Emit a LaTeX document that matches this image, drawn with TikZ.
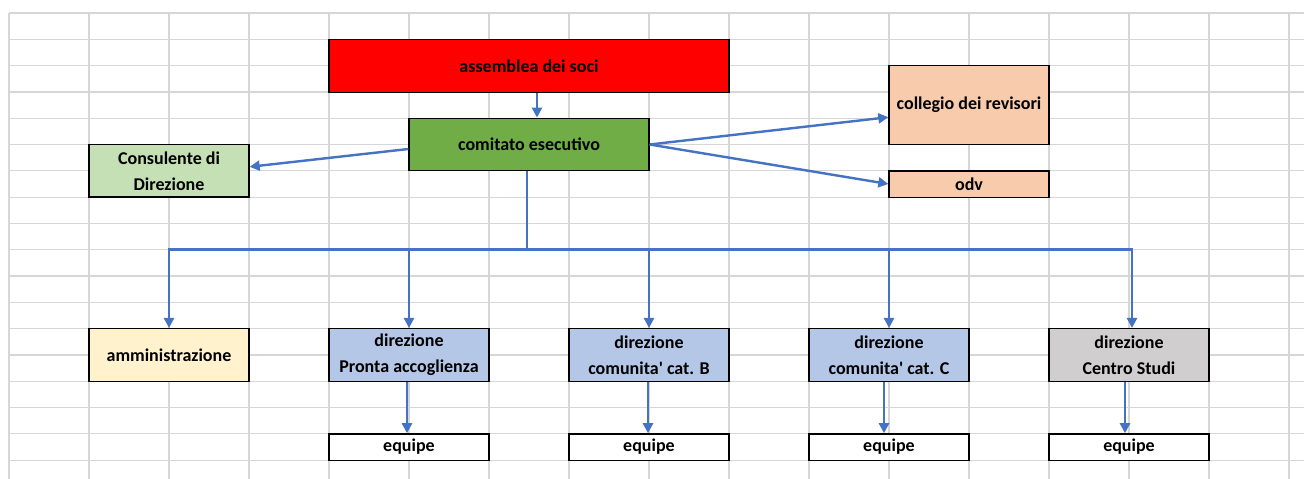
\documentclass[tikz,border=0pt]{standalone}
\usepackage{fontspec}
\setmainfont{Carlito}
\usetikzlibrary{arrows.meta}
\definecolor{gridc}{RGB}{214,214,214}
\definecolor{arrc}{RGB}{68,114,196}
\definecolor{redc}{RGB}{255,0,0}
\definecolor{greenc}{RGB}{112,173,71}
\definecolor{lgreen}{RGB}{197,224,180}
\definecolor{peach}{RGB}{248,203,173}
\definecolor{cream}{RGB}{255,242,204}
\definecolor{lblue}{RGB}{180,199,231}
\definecolor{lgrey}{RGB}{208,206,206}

\begin{document}
\begin{tikzpicture}[x=1pt,y=-1pt,
    box/.style={draw=black,line width=1.3pt,inner sep=0pt,minimum width=160pt,minimum height=52.6pt,
                align=center,font=\fontsize{18}{26}\selectfont\bfseries},
    arr/.style={arrc,line width=2.4pt,-{Triangle[length=10pt,width=10pt]}}]
    \useasboundingbox (0,0) rectangle (1304,479);
    \fill[white] (0,0) rectangle (1304,479);
    % sheet cells
    \foreach \i in {0,...,16} \draw[gridc,line width=1.2pt] (9+80*\i,13) -- (9+80*\i,479);
    \foreach \j in {0,...,17} \draw[gridc,line width=1.2pt] (9,13+26.3*\j) -- (1304,13+26.3*\j);
    % top
    \node[box,fill=redc,minimum width=400pt] (assemblea) at (529,66) {assemblea dei soci};
    \node[box,fill=greenc,minimum width=240pt] (comitato) at (529,144.5) {comitato esecutivo};
    \node[box,fill=lgreen] (consulente) at (169,170.8) {Consulente di\\Direzione};
    \node[box,fill=peach,minimum height=78.9pt] (collegio) at (969,105.2) {collegio dei revisori};
    \node[box,fill=peach,minimum height=26.3pt] (odv) at (969,184) {odv};
    % direzioni
    \node[box,fill=cream] (amm) at (169,354.9) {amministrazione};
    \node[box,fill=lblue] (pronta) at (409,354.9) {direzione\\Pronta accoglienza};
    \node[box,fill=lblue] (catB) at (649,354.9) {direzione\\comunita\textquotesingle{} cat. B};
    \node[box,fill=lblue] (catC) at (889,354.9) {direzione\\comunita\textquotesingle{} cat. C};
    \node[box,fill=lgrey] (studi) at (1129,354.9) {direzione\\Centro Studi};
    % equipe
    \foreach \n/\x in {eqA/409,eqB/649,eqC/889,eqD/1129}
        \node[box,fill=white,minimum height=26.3pt] (\n) at (\x,447) {equipe};
    % links
    \draw[arr] ([xshift=8pt]assemblea.south) -- ([xshift=8pt]comitato.north);
    \draw[arr] ([yshift=-4.5pt]comitato.west) -- ([yshift=4pt]consulente.east);
    \draw[arr] (comitato.east) -- ([yshift=-12pt]collegio.west);
    \draw[arr] (comitato.east) -- (odv.west);
    \coordinate (bus) at (527,249.5);
    \draw[arrc,line width=2.4pt] (comitato.south -| bus) -- (bus);
    \foreach \n in {amm,pronta,catB,catC}
        \draw[arr] (bus) -| (\n.north);
    \draw[arr] (bus) -| ([xshift=3pt]studi.north);
    \draw[arr] ([xshift=-2pt]pronta.south) -- ([xshift=-2pt]eqA.north);
    \draw[arr] ([xshift=-1pt]catB.south) -- ([xshift=-1pt]eqB.north);
    \draw[arr] ([xshift=-5pt]catC.south) -- ([xshift=-5pt]eqC.north);
    \draw[arr] ([xshift=-4pt]studi.south) -- ([xshift=-4pt]eqD.north);
\end{tikzpicture}
\end{document}
